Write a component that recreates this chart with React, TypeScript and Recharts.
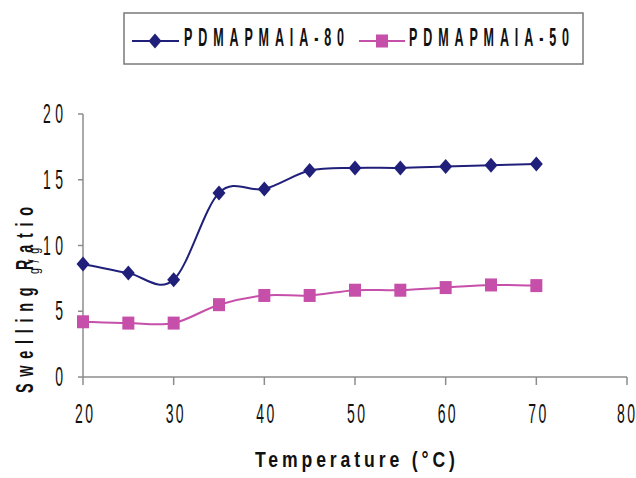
import React from 'react';
import { LineChart, Line, XAxis, YAxis, Legend } from 'recharts';

// values
const temperatures = [20, 25, 30, 35, 40, 45, 50, 55, 60, 65, 70];
const pdmapmaia80 = [8.6, 7.9, 7.4, 14.0, 14.3, 15.7, 15.9, 15.9, 16.0, 16.1, 16.2];
const pdmapmaia50 = [4.2, 4.1, 4.1, 5.5, 6.2, 6.2, 6.6, 6.6, 6.8, 7.0, 6.95];
const xTicks = [20, 30, 40, 50, 60, 70, 80];
const yTicks = [0, 5, 10, 15, 20];

const NAVY = '#20207a';
const MAGENTA = '#c64faa';
const AXIS = '#8c8c8c';
const FONT = "'Liberation Sans', Arial, sans-serif";

const chartData = temperatures.map((t, i) => ({
    temp: t,
    p80: pdmapmaia80[i],
    p50: pdmapmaia50[i],
}));

// Excel-style smoothed line (Catmull-Rom through the points)
const smoothCurve = (context: any) => {
    let pts: number[][] = [];
    return {
        areaStart() {},
        areaEnd() {},
        lineStart() { pts = []; },
        point(x: number, y: number) { pts.push([+x, +y]); },
        lineEnd() {
            if (!pts.length) return;
            context.moveTo(pts[0][0], pts[0][1]);
            for (let i = 0; i < pts.length - 1; i++) {
                const p0 = pts[Math.max(i - 1, 0)];
                const p1 = pts[i];
                const p2 = pts[i + 1];
                const p3 = pts[Math.min(i + 2, pts.length - 1)];
                context.bezierCurveTo(
                    p1[0] + (p2[0] - p0[0]) / 6, p1[1] + (p2[1] - p0[1]) / 6,
                    p2[0] - (p3[0] - p1[0]) / 6, p2[1] - (p3[1] - p1[1]) / 6,
                    p2[0], p2[1]
                );
            }
        },
    };
};

// condensed text: squeeze glyphs horizontally, spread to a given length
const Narrow = ({ x, y, sx, len, size, bold, anchor, rotate, children }: any) => (
    <text
        transform={`translate(${x},${y})${rotate ? ` rotate(${rotate})` : ''} scale(${sx},1)`}
        fontSize={size}
        fontWeight={bold ? 700 : 400}
        fontFamily={FONT}
        fill="#111"
        textAnchor={anchor || 'start'}
        textLength={len / sx}
        lengthAdjust="spacing"
    >
        {children}
    </text>
);

const XTick = ({ x, payload }: any) => (
    <Narrow x={payload.value === 80 ? x - 1 : x + 1} y={423} sx={0.5} len={18} size={28} anchor="middle">
        {payload.value}
    </Narrow>
);

const YTick = ({ x, y, payload }: any) => (
    <Narrow x={x} y={y + 9} sx={0.5} len={String(payload.value).length > 1 ? 20 : 8} size={28} anchor="end">
        {payload.value}
    </Narrow>
);

const XTitle = () => (
    <Narrow x={255} y={467} sx={0.8} len={200} size={22} bold>Temperature (°C)</Narrow>
);

const YTitle = () => (
    <g>
        <Narrow x={33} y={393} sx={0.6} len={186} size={24} bold rotate={-90}>Swelling Ratio</Narrow>
        <Narrow x={39} y={274} sx={0.7} len={26} size={15} rotate={-90}>g/g</Narrow>
    </g>
);

const Diamond = ({ cx, cy }: any) => (
    <path d={`M${cx},${cy - 7.5}L${cx + 6.5},${cy}L${cx},${cy + 7.5}L${cx - 6.5},${cy}Z`} fill={NAVY} />
);

const Square = ({ cx, cy }: any) => (
    <rect x={cx - 6} y={cy - 6.5} width={12} height={13} fill={MAGENTA} />
);

const LegendBox = () => (
    <svg width={462} height={54}>
        <rect x={1} y={1} width={459} height={51} fill="#fff" stroke="#7a7a7a" strokeWidth={1.5} />
        <line x1={9} y1={29} x2={56} y2={29} stroke={NAVY} strokeWidth={2} />
        <Diamond cx={32} cy={29} />
        <Narrow x={61} y={34} sx={0.5} len={160} size={25} bold>PDMAPMAIA-80</Narrow>
        <line x1={236} y1={29} x2={282} y2={29} stroke={MAGENTA} strokeWidth={2} />
        <Square cx={259} cy={29} />
        <Narrow x={286} y={34} sx={0.5} len={160} size={25} bold>PDMAPMAIA-50</Narrow>
    </svg>
);

const App: React.FC = () => {
    return (
        <div style={{ position: 'absolute', left: 0, top: 0, width: 636, height: 478, background: '#fff' }}>
            <LineChart
                width={636}
                height={478}
                data={chartData}
                margin={{ top: 114, right: 9, bottom: 100, left: 82 }}
            >
                <XAxis
                    dataKey="temp"
                    type="number"
                    domain={[20, 80]}
                    ticks={xTicks}
                    height={1}
                    tickSize={8}
                    tickMargin={0}
                    axisLine={{ stroke: AXIS, strokeWidth: 1.5 }}
                    tickLine={{ stroke: AXIS, strokeWidth: 1.5 }}
                    tick={<XTick />}
                    label={<XTitle />}
                />
                <YAxis
                    type="number"
                    domain={[0, 20]}
                    ticks={yTicks}
                    width={1}
                    tickSize={5}
                    tickMargin={15}
                    axisLine={{ stroke: AXIS, strokeWidth: 1.5 }}
                    tickLine={{ stroke: AXIS, strokeWidth: 1.5 }}
                    tick={<YTick />}
                    label={<YTitle />}
                />
                <Legend
                    layout="vertical"
                    align="center"
                    verticalAlign="middle"
                    wrapperStyle={{ left: 123, top: 12, width: 462, height: 54 }}
                    content={() => <LegendBox />}
                />
                <Line
                    dataKey="p80"
                    name="PDMAPMAIA-80"
                    type={smoothCurve as any}
                    stroke={NAVY}
                    strokeWidth={2}
                    dot={(p: any) => <Diamond key={`d-${p.index}`} cx={p.cx} cy={p.cy} />}
                    activeDot={false}
                    isAnimationActive={false}
                />
                <Line
                    dataKey="p50"
                    name="PDMAPMAIA-50"
                    type={smoothCurve as any}
                    stroke={MAGENTA}
                    strokeWidth={2}
                    dot={(p: any) => <Square key={`s-${p.index}`} cx={p.cx} cy={p.cy} />}
                    activeDot={false}
                    isAnimationActive={false}
                />
            </LineChart>
        </div>
    );
};

export default App;
